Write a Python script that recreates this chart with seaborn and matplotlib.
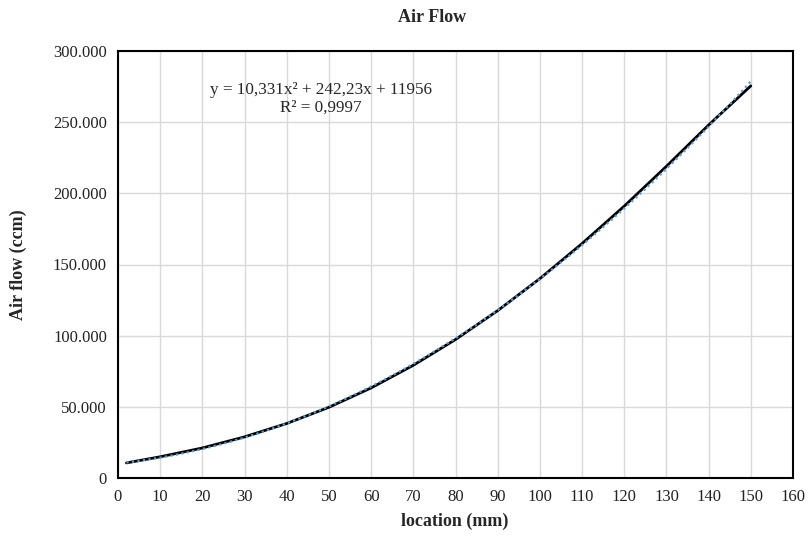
import numpy as np
import pandas as pd
import matplotlib
matplotlib.use("Agg")
import matplotlib.pyplot as plt
from matplotlib.ticker import FuncFormatter, MultipleLocator
import seaborn as sns

location_mm = [2, 10, 20, 30, 40, 50, 60, 70, 80, 90, 100, 110, 120, 130, 140, 150]
air_flow_ccm = [10600, 14900, 21100, 28900, 38300, 49700, 63300, 79200, 97300,
                117600, 140100, 164700, 191000, 219000, 248000, 275500]
title = "Air Flow"
x_label = "location (mm)"
y_label = "Air flow (ccm)"
equation_text = "y = 10,331x\u00b2 + 242,23x + 11956\nR\u00b2 = 0,9997"

df = pd.DataFrame({"x": location_mm, "y": air_flow_ccm})

sns.set_theme(style="white")
plt.rcParams["font.family"] = ["Liberation Serif", "DejaVu Serif"]

fig = plt.figure(figsize=(8.08, 5.40), dpi=100)
ax = fig.add_axes([118/808, 1-478/540, (793-118)/808, (478-51)/540])

sns.lineplot(data=df, x="x", y="y", ax=ax, color="black", linewidth=2.0, zorder=3)
sns.regplot(data=df, x="x", y="y", ax=ax, order=2, ci=None, scatter=False,
            line_kws=dict(color="#5b9bd5", linestyle=(0, (1, 1.5)), linewidth=1.6, zorder=4))

ax.set_xlim(0, 160)
ax.set_ylim(0, 300000)
ax.xaxis.set_major_locator(MultipleLocator(10))
ax.yaxis.set_major_locator(MultipleLocator(50000))

def fmt(v, pos):
    v = int(round(v))
    if v == 0:
        return "0"
    return f"{v:,}".replace(",", ".")
ax.yaxis.set_major_formatter(FuncFormatter(fmt))

ax.grid(True, color="#d9d9d9", linewidth=1.0, zorder=0)
ax.set_axisbelow(True)
for s in ax.spines.values():
    s.set_visible(True)
    s.set_color("black")
    s.set_linewidth(1.5)
ax.tick_params(axis="both", which="both", length=0, labelsize=12, colors="#222222", pad=8)
ax.set_xlabel("")
ax.set_ylabel("")

fig.text(432/808, 1-18/540, title, ha="center", va="center", fontsize=13, fontweight="bold")
fig.text(455/808, 1-521/540, x_label, ha="center", va="center", fontsize=13, fontweight="bold")
fig.text(18/808, 1-265/540, y_label, ha="center", va="center", fontsize=13, fontweight="bold", rotation=90)
fig.text(321/808, 1-99/540, equation_text, ha="center", va="center", fontsize=12.3,
         multialignment="center", linespacing=1.1)

fig.savefig("out.png", dpi=100)
